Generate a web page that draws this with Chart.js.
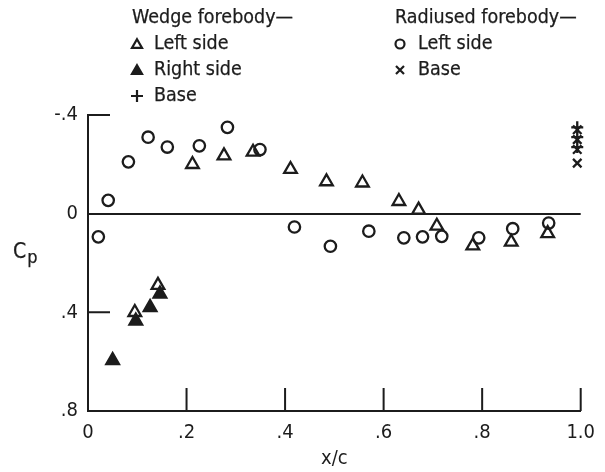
<!DOCTYPE html>
<html>
<head>
<meta charset="utf-8">
<script src="https://cdn.jsdelivr.net/npm/chart.js@4.4.1/dist/chart.umd.min.js"></script>
<style>
  html, body { margin: 0; padding: 0; background: #fff; }
  #wrap { position: relative; width: 605px; height: 472px; overflow: hidden;
          font-family: 'DejaVu Sans Condensed', 'DejaVu Sans', sans-serif; color: #1c1c1c; }
  #c { position: absolute; left: 0; top: 0; }
  .t { position: absolute; font-size: 19.5px; line-height: 19.5px; white-space: nowrap; -webkit-text-stroke: 0.25px #1c1c1c; }
  #cp { position: absolute; left: 13px; top: 241px; font-size: 21px; line-height: 21px; -webkit-text-stroke: 0.25px #1c1c1c; }
  #cp sub { font-size: 18px; position: relative; top: 5px; vertical-align: baseline; margin-left: 1px; }
</style>
</head>
<body>
<div id="wrap">
  <canvas id="c" width="605" height="472"></canvas>
  <div class="t" style="left:132px; top:7px;">Wedge forebody—</div>
  <div class="t" style="left:154px; top:33px;">Left side</div>
  <div class="t" style="left:154px; top:59px;">Right side</div>
  <div class="t" style="left:154px; top:85px;">Base</div>
  <div class="t" style="left:395px; top:7px;">Radiused forebody—</div>
  <div class="t" style="left:418px; top:33px;">Left side</div>
  <div class="t" style="left:418px; top:59px;">Base</div>
  <div id="cp">C<sub>p</sub></div>
</div>
<script>
// ---- data ----
const wedgeLeftX  = [0.095, 0.142, 0.212, 0.276, 0.335, 0.411, 0.484, 0.557, 0.631, 0.671, 0.708, 0.781, 0.859, 0.933];
const wedgeLeftY  = [0.40, 0.29, -0.20, -0.235, -0.25, -0.18, -0.13, -0.125, -0.05, -0.015, 0.05, 0.13, 0.115, 0.08];

const wedgeRightX = [0.050, 0.097, 0.126, 0.146];
const wedgeRightY = [0.595, 0.435, 0.38, 0.325];

const wedgeBaseX  = [0.993, 0.993, 0.993];
const wedgeBaseY  = [-0.35, -0.31, -0.27];

const radiusedLeftX = [0.021, 0.041, 0.082, 0.122, 0.161, 0.226, 0.283, 0.349, 0.419, 0.492, 0.570, 0.641, 0.679, 0.718, 0.793, 0.862, 0.935];
const radiusedLeftY = [0.094, -0.054, -0.21, -0.31, -0.27, -0.275, -0.35, -0.26, 0.054, 0.132, 0.071, 0.098, 0.094, 0.092, 0.098, 0.061, 0.038];

const radiusedBaseX = [0.993, 0.993, 0.993, 0.993];
const radiusedBaseY = [-0.34, -0.30, -0.26, -0.205];

const xTickValues = [0, 0.2, 0.4, 0.6, 0.8, 1.0];
const xTickLabels = ['0', '.2', '.4', '.6', '.8', '1.0'];
const yTickValues = [-0.4, 0, 0.4, 0.8];
const yTickLabels = ['-.4', '0', '.4', '.8'];
const xTitle = 'x/c';

// ---- build ----
const INK = '#1c1c1c';
function pts(xs, ys) { return xs.map((x, i) => ({ x: x, y: ys[i] })); }
function labelFor(values, labels, v) {
  const i = values.findIndex(t => Math.abs(t - v) < 1e-6);
  return i >= 0 ? labels[i] : '';
}

Chart.defaults.font.family = "'DejaVu Sans Condensed', 'DejaVu Sans', sans-serif";
Chart.defaults.color = INK;

const innerTicks = {
  id: 'innerTicks',
  afterDatasetsDraw(chart) {
    const { ctx, chartArea } = chart;
    const xs = chart.scales.x, ys = chart.scales.y;
    ctx.save();
    ctx.strokeStyle = INK;
    ctx.lineWidth = 2;
    ctx.beginPath();
    ys.ticks.forEach(t => {
      if (Math.abs(t.value) < 1e-9 || Math.abs(t.value - 0.8) < 1e-9) return;
      const y = ys.getPixelForValue(t.value);
      ctx.moveTo(chartArea.left, y); ctx.lineTo(chartArea.left + 22, y);
    });
    xs.ticks.forEach(t => {
      if (t.value < 1e-9) return;
      const x = xs.getPixelForValue(t.value);
      ctx.moveTo(x, chartArea.bottom); ctx.lineTo(x, chartArea.bottom - 23);
    });
    ctx.stroke();
    ctx.restore();
  }
};

const legendMarks = {
  id: 'legendMarks',
  afterDraw(chart) {
    const ctx = chart.ctx;
    ctx.save();
    ctx.strokeStyle = INK; ctx.fillStyle = INK; ctx.lineWidth = 2.2;
    function tri(cx, cy, r, fill) {
      ctx.beginPath();
      ctx.moveTo(cx, cy - r);
      ctx.lineTo(cx + r * 0.866, cy + r * 0.5);
      ctx.lineTo(cx - r * 0.866, cy + r * 0.5);
      ctx.closePath();
      if (fill) ctx.fill();
      ctx.stroke();
    }
    tri(137, 45, 5.8, false);
    tri(137, 71, 5.8, true);
    ctx.beginPath();
    ctx.moveTo(131, 96); ctx.lineTo(143, 96);
    ctx.moveTo(137, 90); ctx.lineTo(137, 102);
    ctx.stroke();
    ctx.beginPath(); ctx.arc(400, 44, 4.5, 0, Math.PI * 2); ctx.stroke();
    ctx.beginPath();
    ctx.moveTo(396, 66); ctx.lineTo(404, 74);
    ctx.moveTo(404, 66); ctx.lineTo(396, 74);
    ctx.stroke();
    ctx.restore();
  }
};

new Chart(document.getElementById('c'), {
  type: 'scatter',
  data: {
    datasets: [
      { label: 'Radiused forebody — Left side', data: pts(radiusedLeftX, radiusedLeftY),
        pointStyle: 'circle', pointRadius: 5.7, borderColor: INK, backgroundColor: 'rgba(0,0,0,0)', borderWidth: 2.3, clip: false },
      { label: 'Wedge forebody — Left side', data: pts(wedgeLeftX, wedgeLeftY),
        pointStyle: 'triangle', pointRadius: 7.3, borderColor: INK, backgroundColor: 'rgba(0,0,0,0)', borderWidth: 2.3, clip: false },
      { label: 'Wedge forebody — Right side', data: pts(wedgeRightX, wedgeRightY),
        pointStyle: 'triangle', pointRadius: 7.3, borderColor: INK, backgroundColor: INK, borderWidth: 2.3, clip: false },
      { label: 'Wedge forebody — Base', data: pts(wedgeBaseX, wedgeBaseY),
        pointStyle: 'cross', pointRadius: 6, borderColor: INK, borderWidth: 2.3, clip: false },
      { label: 'Radiused forebody — Base', data: pts(radiusedBaseX, radiusedBaseY),
        pointStyle: 'crossRot', pointRadius: 6, borderColor: INK, borderWidth: 2.3, clip: false }
    ]
  },
  options: {
    responsive: false,
    animation: false,
    events: [],
    layout: { padding: { top: 115, right: 23, left: 0, bottom: 0 } },
    plugins: { legend: { display: false }, tooltip: { enabled: false } },
    scales: {
      x: {
        type: 'linear', min: 0, max: 1.0,
        afterFit(s) { s.height = 61; },
        ticks: { stepSize: 0.2, padding: 10, font: { size: 20 }, color: INK,
                 callback: v => labelFor(xTickValues, xTickLabels, v) },
        grid: { display: true, drawOnChartArea: false, drawTicks: false },
        border: { display: true, color: INK, width: 2 },
        title: { display: true, text: xTitle, font: { size: 20 }, color: INK, padding: { top: 0, bottom: 1 } }
      },
      y: {
        type: 'linear', min: -0.4, max: 0.8, reverse: true,
        afterFit(s) { s.width = 88; },
        ticks: { stepSize: 0.4, padding: 10, font: { size: 20 }, color: INK,
                 callback: v => labelFor(yTickValues, yTickLabels, v) },
        grid: { drawTicks: false, lineWidth: 2,
                color: c => (c.tick && Math.abs(c.tick.value) < 1e-9) ? INK : 'rgba(0,0,0,0)' },
        border: { display: true, color: INK, width: 2 }
      }
    }
  },
  plugins: [innerTicks, legendMarks]
});
</script>
</body>
</html>
